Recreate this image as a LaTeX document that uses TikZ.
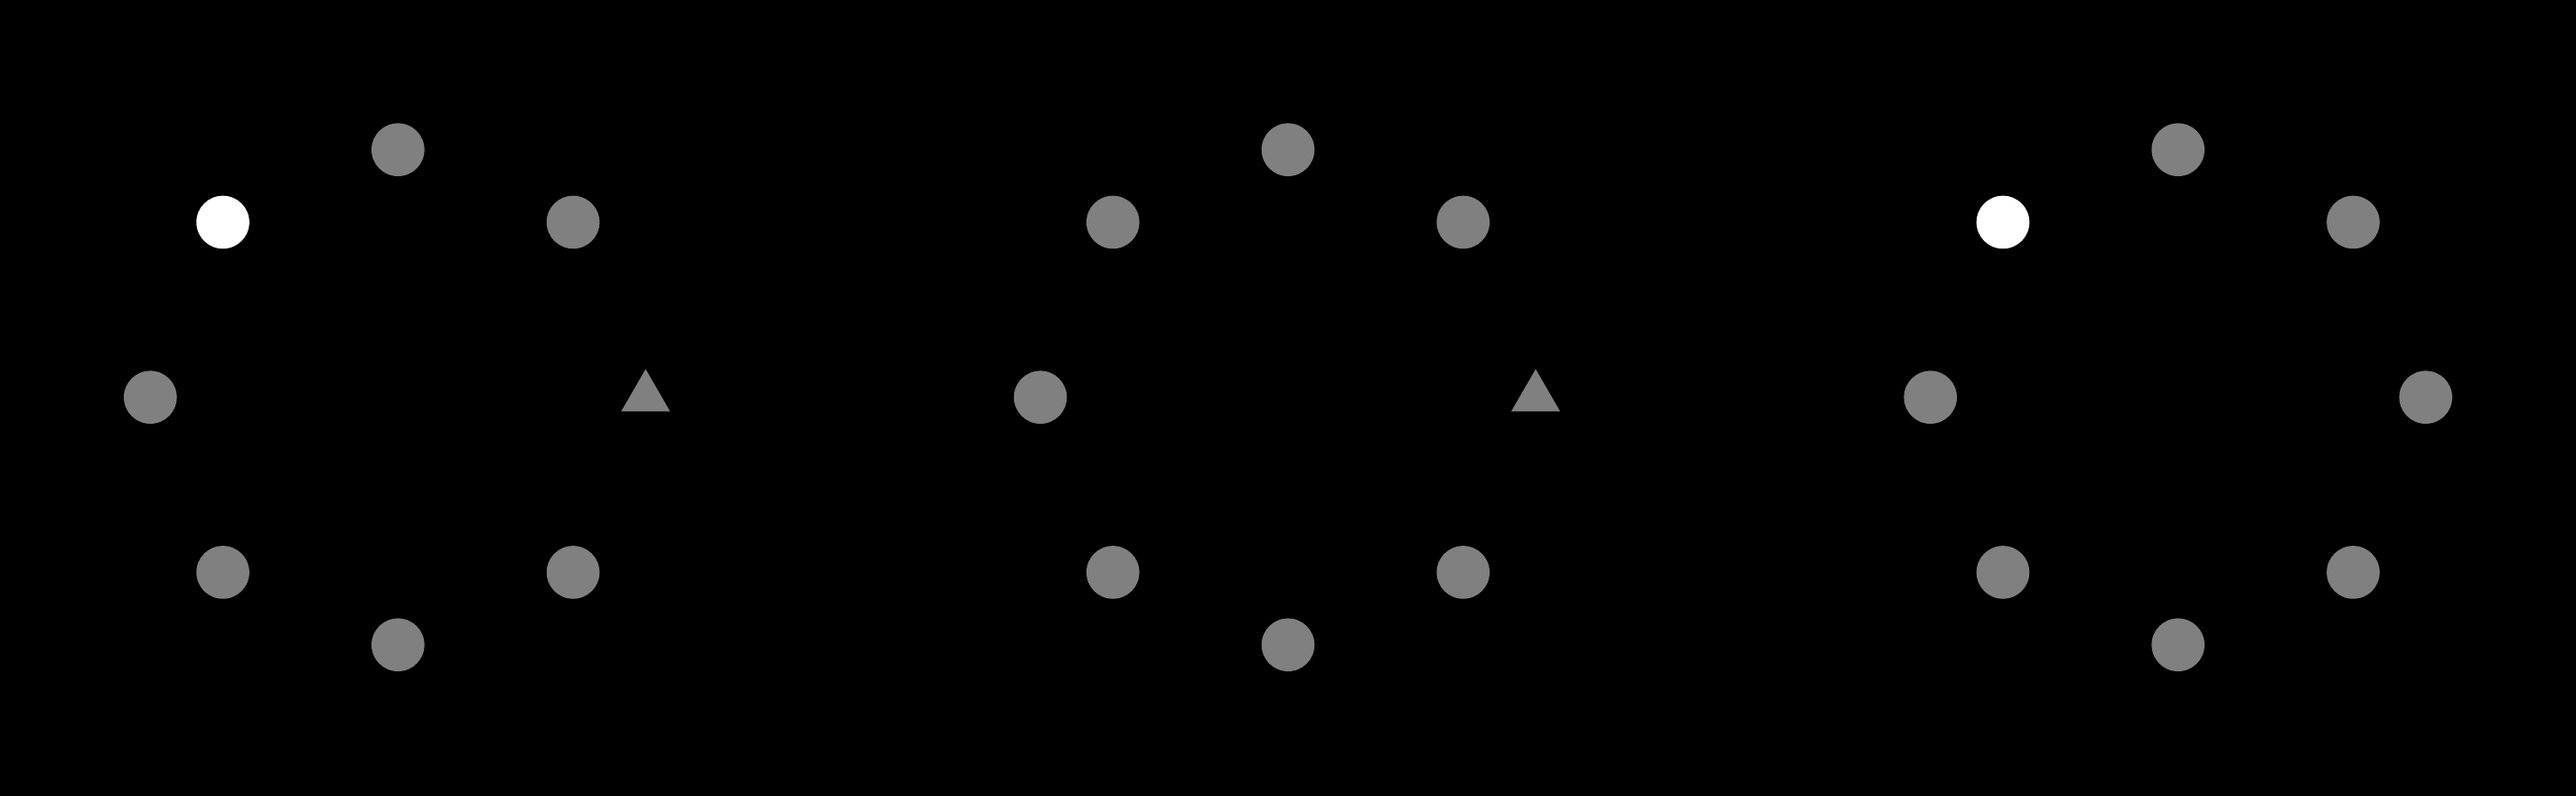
\documentclass[tikz,border=0pt]{standalone}
\usetikzlibrary{shapes.geometric,calc}
\definecolor{dotgray}{HTML}{808080}
\tikzset{
  dot/.style={circle,fill=dotgray,draw=none,inner sep=0pt,minimum size=0.586cm},
  whitedot/.style={circle,fill=white,draw=none,inner sep=0pt,minimum size=0.586cm},
  tri/.style={regular polygon,regular polygon sides=3,fill=dotgray,draw=none,inner sep=0pt,minimum size=0.624cm}
}
\begin{document}
\begin{tikzpicture}
\useasboundingbox (0,0) rectangle (28.5,-8.8);
\fill[black] (-0.2,0.2) rectangle (28.7,-9.0);
% panel centres
\coordinate (cA) at (4.403,-4.397);
\coordinate (cB) at (14.250,-4.397);
\coordinate (cC) at (24.097,-4.397);
% panel A
\foreach \a/\n in {90/top,45/ur,-45/lr,-90/bot,-135/ll,180/left}
  \node[dot] (A-\n) at ($(cA)+(\a:2.74)$) {};
\node[whitedot] (A-ul) at ($(cA)+(135:2.74)$) {};
\node[tri] (A-right) at ($(cA)+(0:2.74)$) {};
% panel B
\foreach \a/\n in {90/top,45/ur,-45/lr,-90/bot,-135/ll,180/left,135/ul}
  \node[dot] (B-\n) at ($(cB)+(\a:2.74)$) {};
\node[tri] (B-right) at ($(cB)+(0:2.74)$) {};
% panel C
\foreach \a/\n in {90/top,45/ur,-45/lr,-90/bot,-135/ll,180/left,0/right}
  \node[dot] (C-\n) at ($(cC)+(\a:2.74)$) {};
\node[whitedot] (C-ul) at ($(cC)+(135:2.74)$) {};
\end{tikzpicture}
\end{document}
